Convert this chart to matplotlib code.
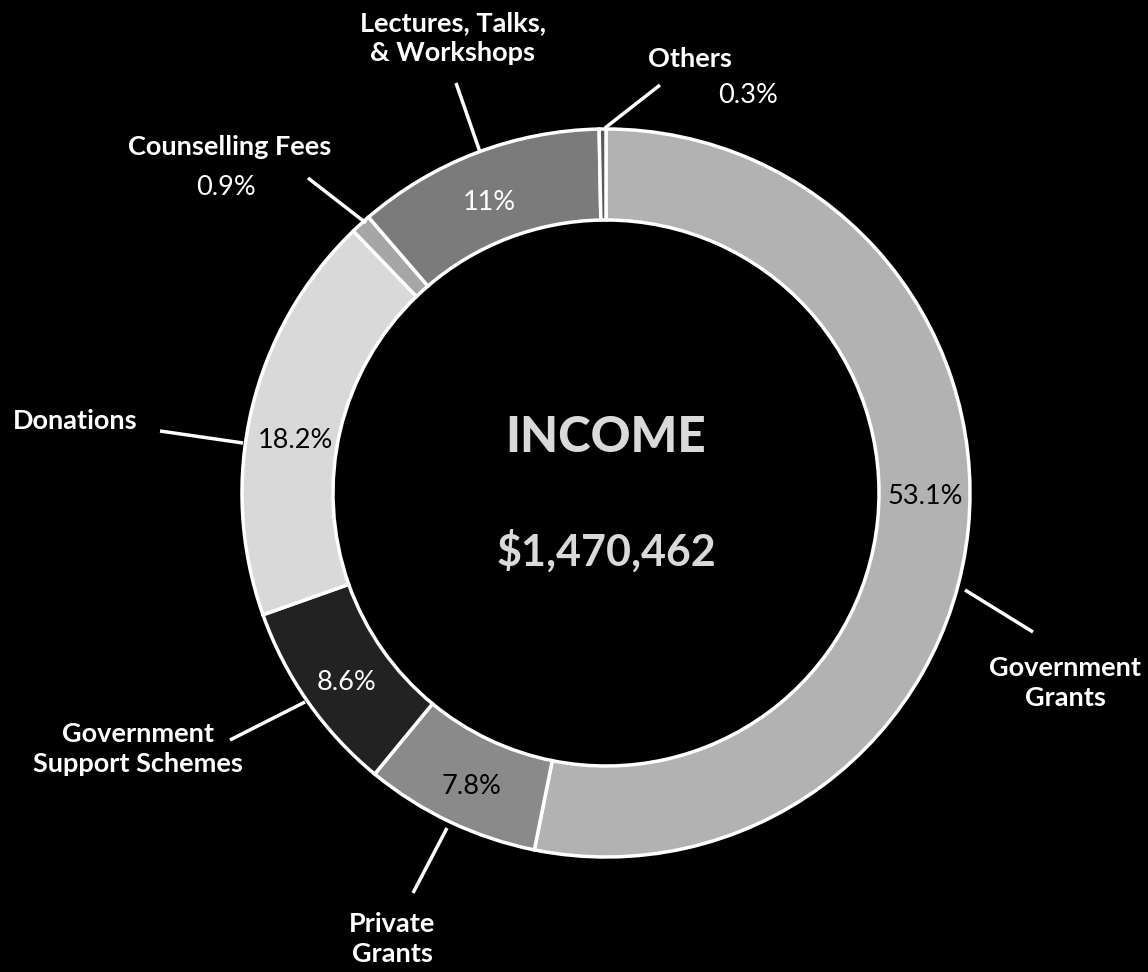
import matplotlib
matplotlib.use("Agg")
import matplotlib.pyplot as plt

# Income breakdown (percent of total)
categories = ["Government\nGrants", "Private\nGrants", "Government\nSupport Schemes",
              "Donations", "Counselling Fees", "Lectures, Talks,\n& Workshops", "Others"]
shares = [53.1, 7.8, 8.6, 18.2, 0.9, 11, 0.3]
colors = ["#b2b2b2", "#8a8a8a", "#222222", "#d9d9d9", "#a6a6a6", "#7b7b7b", "#595959"]
pct_colors = ["black", "black", "white", "black", "white", "white", "white"]
total_income = 1470462
title = "INCOME"

W, H = 1148, 972
fig = plt.figure(figsize=(W / 100, H / 100), dpi=100, facecolor="black")
ax = fig.add_axes([0, 0, 1, 1])
ax.set_facecolor("black")


def Y(py):
    return H - py


cx, cy, R, ring = 606, Y(493), 364, 91

ax.pie(shares, colors=colors, startangle=90, counterclock=False,
       center=(cx, cy), radius=R, frame=True,
       wedgeprops=dict(width=ring, edgecolor="white", linewidth=2.5))
ax.set_xlim(0, W)
ax.set_ylim(0, H)
ax.set_aspect("equal")
ax.axis("off")

FONT = "Lato"
label_kw = dict(color="white", fontsize=19.5, fontweight="bold", family=FONT,
                ha="center", va="center", linespacing=1.3)
pct_kw = dict(fontsize=19.5, family=FONT, ha="center", va="center")

# category label positions and leader lines (x1, y1) -> (x2, y2)
label_pos = [(1065, 683), (392, 939), (138, 749), (75, 421), (230, 147), (453, 38), (690, 59)]
leaders = [((965, 590), (1033, 632)), ((447, 828), (413, 893)), ((305, 702), (230, 740)),
           ((243, 443), (160, 431)), ((366, 223), (308, 178)), ((480, 152), (456, 83)),
           ((605, 128), (660, 85))]
pct_pos = [(925, 497), (471, 787), (347, 682), (295, 440), (226, 188), (489, 203), (748, 96)]

for name, share, pc, lp, (p1, p2), pp in zip(categories, shares, pct_colors,
                                             label_pos, leaders, pct_pos):
    ax.plot([p1[0], p2[0]], [Y(p1[1]), Y(p2[1])], color="white", lw=2.5,
            solid_capstyle="butt", zorder=5)
    ax.text(lp[0], Y(lp[1]), name, **label_kw)
    ax.text(pp[0], Y(pp[1]), f"{share:g}%", color=pc, **pct_kw)

ax.text(cx, Y(438), title, color="#d9d9d9", fontsize=35.5, fontweight="black",
        family=FONT, ha="center", va="center")
ax.text(cx, Y(551), f"${total_income:,}", color="#d9d9d9", fontsize=31,
        fontweight="bold", family=FONT, ha="center", va="center")

fig.savefig("out.png", dpi=100, facecolor="black")
